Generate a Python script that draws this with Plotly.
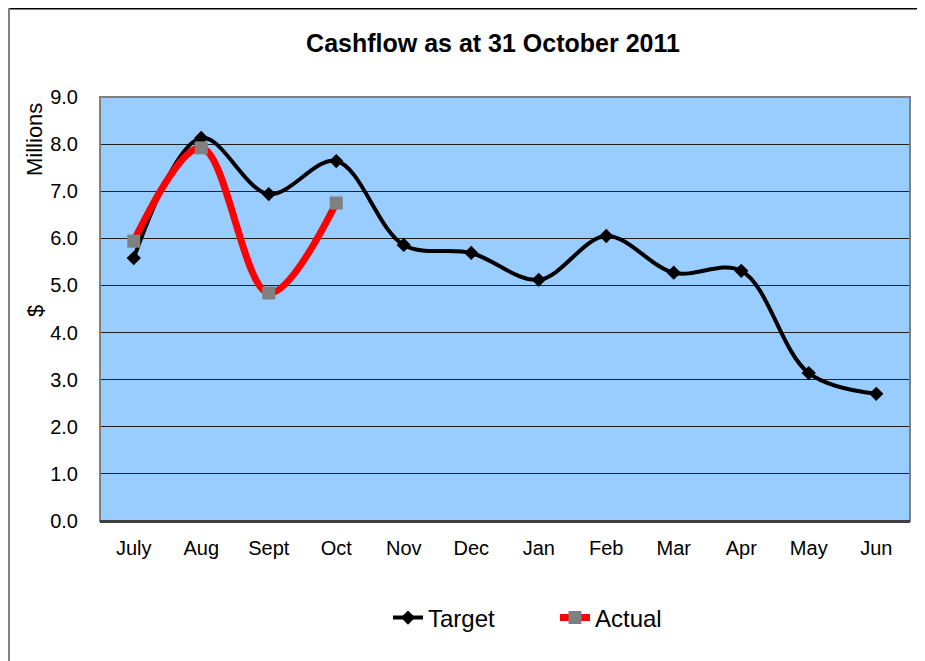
import plotly.graph_objects as go

months = ["July", "Aug", "Sept", "Oct", "Nov", "Dec", "Jan", "Feb", "Mar", "Apr", "May", "Jun"]
target = [5.58, 8.13, 6.94, 7.64, 5.86, 5.69, 5.12, 6.05, 5.27, 5.31, 3.14, 2.70]
actual_months = ["July", "Aug", "Sept", "Oct"]
actual = [5.94, 7.92, 4.84, 6.75]

FONT = "Liberation Sans, Arial, sans-serif"

# page has an 8px body margin; figure is sized to fill the rest of the window
W, H = 917, 653
L, R, T, B = 92, 15, 89, 140
PW = W - L - R
PH = H - T - B

fig = go.Figure()
fig.add_trace(go.Scatter(
    x=months, y=target, name="Target", mode="lines+markers",
    line=dict(color="black", width=4, shape="spline", smoothing=1.0),
    marker=dict(symbol="diamond", size=11, color="black"),
))
fig.add_trace(go.Scatter(
    x=actual_months, y=actual, name="Actual", mode="lines+markers",
    line=dict(color="#ff0000", width=7, shape="spline", smoothing=1.0),
    marker=dict(symbol="square", size=13, color="#808080"),
))

fig.update_layout(
    width=W, height=H,
    margin=dict(l=L, r=R, t=T, b=B),
    paper_bgcolor="white",
    plot_bgcolor="#99ccff",
    font=dict(family=FONT, size=20, color="black"),
    title=dict(text="<b>Cashflow as at 31 October 2011</b>", x=(493 - 8) / W, xanchor="center",
               y=1 - 35 / H, yanchor="middle", font=dict(size=25, family=FONT)),
    showlegend=True,
    legend=dict(orientation="h", x=(388 - 8 - L) / PW, xanchor="left", y=-(610 - (T + PH)) / PH,
                yanchor="middle", font=dict(size=24), entrywidth=122, entrywidthmode="pixels",
                bgcolor="rgba(0,0,0,0)"),
    xaxis=dict(type="category", categoryorder="array", categoryarray=months,
               range=[-0.5, len(months) - 0.5],
               showgrid=False, showline=True, linecolor="#404040", linewidth=2,
               ticks="", ticklabelstandoff=8, tickfont=dict(size=20)),
    yaxis=dict(range=[0, 9], dtick=1, tickformat=".1f", showgrid=True,
               gridcolor="#202020", gridwidth=1, zeroline=False,
               showline=False, ticks="", ticklabelstandoff=21, tickfont=dict(size=20)),
    shapes=[
        dict(type="rect", xref="paper", yref="paper", x0=0, y0=0, x1=1, y1=1,
             line=dict(color="#808080", width=2), layer="above"),
        dict(type="line", xref="paper", yref="paper", x0=0, y0=0, x1=1, y1=0,
             line=dict(color="#404040", width=2), layer="above"),
        dict(type="line", xref="paper", yref="paper", x0=-(L - 1) / PW, y0=(T + PH - 0.5) / PH,
             x1=(W - L + 5) / PW, y1=(T + PH - 0.5) / PH,
             line=dict(color="black", width=2)),
        dict(type="line", xref="paper", yref="paper", x0=-(L - 1) / PW, y0=(T + PH) / PH,
             x1=-(L - 1) / PW, y1=-(B + 5) / PH,
             line=dict(color="#808080", width=2)),
    ],
    annotations=[
        dict(text="Millions", xref="paper", yref="paper", x=(35 - 8 - L) / PW, y=(T + PH - (140 - 8)) / PH,
             textangle=-90, showarrow=False, font=dict(size=22), xanchor="center", yanchor="middle"),
        dict(text="$", xref="paper", yref="paper", x=(35 - 8 - L) / PW, y=(T + PH - (311 - 8)) / PH,
             textangle=-90, showarrow=False, font=dict(size=22), xanchor="center", yanchor="middle"),
    ],
)

fig.write_html("out.html")
